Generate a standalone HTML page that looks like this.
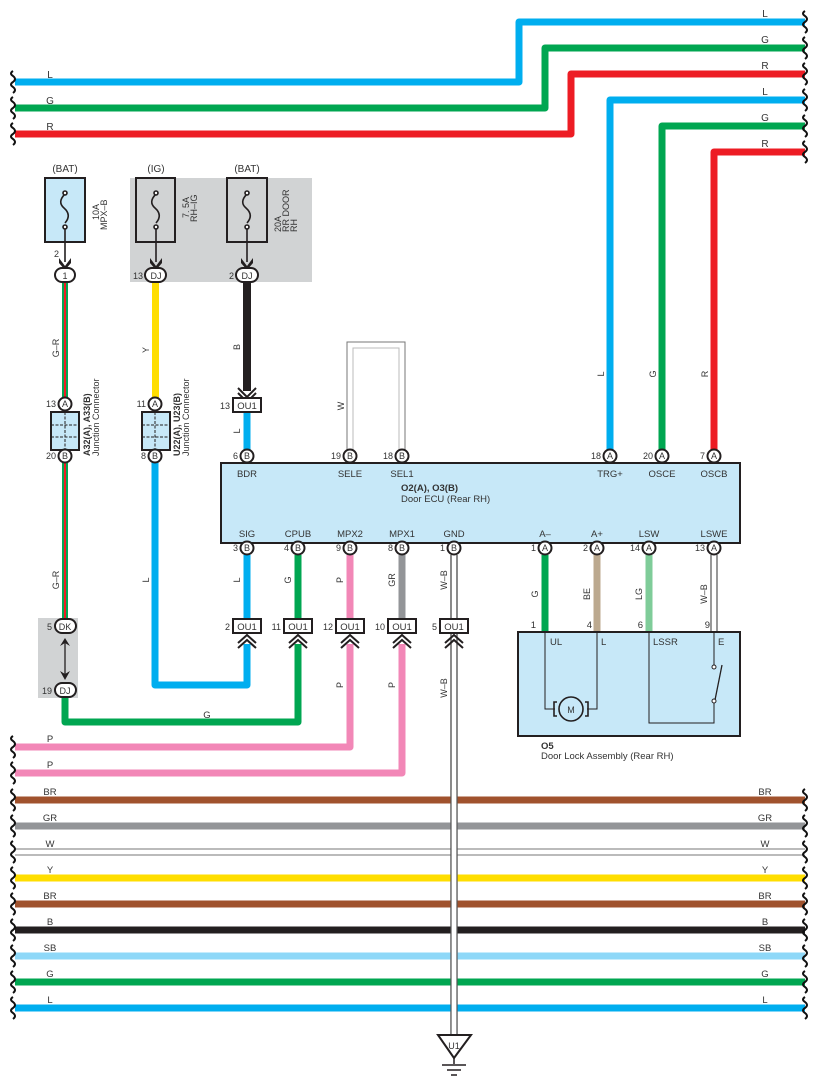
<!DOCTYPE html>
<html><head><meta charset="utf-8"><style>
html,body{margin:0;padding:0;background:#fff}
svg{display:block;font-family:"Liberation Sans",sans-serif}
text{fill:#333}
</style></head><body>
<svg width="817" height="1088" viewBox="0 0 817 1088" xmlns="http://www.w3.org/2000/svg">
<defs>
<g id="brace"><path d="M0,-11 q-4,2.5 0,5 q4,3 0,6 q-4,2.5 0,5 q4,3 0,6" fill="none" stroke="#111" stroke-width="2"/></g>
</defs>
<g fill="none" stroke-linejoin="round" stroke-width="7">
<path d="M15,82 H519 V22 H805" stroke="#00aeef"/>
<path d="M15,108 H545 V48 H805" stroke="#00a651"/>
<path d="M15,134 H571 V74 H805" stroke="#ed1c24"/>
<path d="M610,455 V100 H805" stroke="#00aeef"/>
<path d="M662,455 V126 H805" stroke="#00a651"/>
<path d="M714,455 V152 H805" stroke="#ed1c24"/>
</g>
<g font-size="10" text-anchor="middle">
<text x="50" y="78">L</text><text x="50" y="104">G</text><text x="50" y="130">R</text>
<text x="765" y="17">L</text><text x="765" y="43">G</text><text x="765" y="69">R</text>
<text x="765" y="95">L</text><text x="765" y="121">G</text><text x="765" y="147">R</text>
</g>
<use href="#brace" x="13" y="82"/><use href="#brace" x="13" y="108"/><use href="#brace" x="13" y="134"/>
<use href="#brace" x="805" y="22"/><use href="#brace" x="805" y="48"/><use href="#brace" x="805" y="74"/><use href="#brace" x="805" y="100"/><use href="#brace" x="805" y="126"/><use href="#brace" x="805" y="152"/>

<rect x="130" y="178" width="182" height="104" fill="#d1d3d4"/>
<rect x="38" y="618" width="40" height="80" fill="#d1d3d4"/>

<g font-size="10" text-anchor="middle">
<text x="65" y="172">(BAT)</text><text x="156" y="172">(IG)</text><text x="247" y="172">(BAT)</text>
</g>
<rect x="45" y="178" width="40" height="64" fill="#c7e8f8" stroke="#231f20" stroke-width="2"/>
<rect x="136" y="178" width="39" height="64" fill="#d1d3d4" stroke="#231f20" stroke-width="2"/>
<rect x="227" y="178" width="40" height="64" fill="#d1d3d4" stroke="#231f20" stroke-width="2"/>
<g fill="none" stroke="#231f20" stroke-width="1.6">
<path d="M65,194 q-8,8 -1,14 q8,7 1,15"/><circle cx="65" cy="193" r="2" fill="#fff"/><circle cx="65" cy="227" r="2" fill="#fff"/>
<path d="M156,194 q-8,8 -1,14 q8,7 1,15"/><circle cx="156" cy="193" r="2" fill="#fff"/><circle cx="156" cy="227" r="2" fill="#fff"/>
<path d="M247,194 q-8,8 -1,14 q8,7 1,15"/><circle cx="247" cy="193" r="2" fill="#fff"/><circle cx="247" cy="227" r="2" fill="#fff"/>
<path d="M65,229 V262 M156,229 V262 M247,229 V262"/>
</g>
<g fill="#231f20">
<path d="M59,258 L65,266 L71,258 L71,263 L65,270 L59,263Z"/>
<path d="M150,258 L156,266 L162,258 L162,263 L156,270 L150,263Z"/>
<path d="M241,258 L247,266 L253,258 L253,263 L247,270 L241,263Z"/>
</g>
<g font-size="9" transform="rotate(-90)">
<text x="-220" y="99">10A</text><text x="-230" y="107">MPX–B</text>
<text x="-218" y="189">7. 5A</text><text x="-222" y="197">RH–IG</text>
<text x="-232" y="281">20A</text><text x="-232" y="289">RR DOOR</text><text x="-232" y="297">RH</text>
</g>
<text x="54" y="257" font-size="9">2</text>

<rect x="62" y="283" width="6" height="120" fill="#00a651"/><rect x="64" y="283" width="2" height="120" fill="#ed1c24"/>
<rect x="62" y="462" width="6" height="157" fill="#00a651"/><rect x="64" y="462" width="2" height="157" fill="#ed1c24"/>
<rect x="152" y="283" width="7" height="115" fill="#ffde00"/>
<rect x="243" y="283" width="8" height="108" fill="#231f20"/>
<path d="M238,388 l9,9 l9,-9 M238,393 l9,9 l9,-9" stroke="#231f20" stroke-width="2" fill="none"/>
<g fill="none" stroke-linejoin="round" stroke-width="7">
<path d="M155,462 V685 H247 V644" stroke="#00aeef"/>
<path d="M247,412 V450" stroke="#00aeef"/>
<path d="M65,698 V722 H298 V644" stroke="#00a651"/>
<path d="M15,747 H350 V644" stroke="#f287b7"/>
<path d="M15,773 H402 V644" stroke="#f287b7"/>
<path d="M247,555 V618" stroke="#00aeef"/>
<path d="M298,555 V618" stroke="#00a651"/>
<path d="M350,555 V618" stroke="#f287b7"/>
<path d="M402,555 V618" stroke="#939598"/>
<path d="M545,555 V632" stroke="#00a651"/>
<path d="M597,555 V632" stroke="#bca98f"/>
<path d="M649,555 V632" stroke="#7fcc99"/>
</g>
<path d="M347,450 V342 H405 V450" fill="none" stroke="#777" stroke-width="1"/>
<path d="M353,450 V348 H399 V450" fill="none" stroke="#bbb" stroke-width="1"/>
<path d="M451,555 V1035 M457,555 V1035" stroke="#555" stroke-width="1.2"/>
<path d="M711,555 V632 M717,555 V632" stroke="#555" stroke-width="1.2"/>

<g stroke="#231f20" stroke-width="2" fill="#c7e8f8">
<rect x="51" y="412" width="28" height="38"/><rect x="142" y="412" width="28" height="38"/>
</g>
<g stroke="#231f20" stroke-width="1" fill="none">
<path d="M65,412 V450 M142,425 H170 M142,437 H170 M155,412 V450 M51,425 H79 M51,437 H79" stroke-dasharray="3,1.5"/>
</g>
<g font-size="9" transform="rotate(-90)">
<text x="-456" y="90" font-weight="bold">A32(A), A33(B)</text><text x="-456" y="99">Junction Connector</text>
<text x="-456" y="180" font-weight="bold">U22(A), U23(B)</text><text x="-456" y="189">Junction Connector</text>
</g>

<path d="M65,640 V676" stroke="#231f20" stroke-width="1.3"/>
<path d="M60,646 L65,638 L70,646 L65,643Z M60,671 L65,680 L70,671 L65,674Z" fill="#231f20"/>

<rect x="221" y="463" width="519" height="80" fill="#c7e8f8" stroke="#231f20" stroke-width="2"/>
<g font-size="9.5" text-anchor="middle">
<text x="247" y="477">BDR</text><text x="350" y="477">SELE</text><text x="402" y="477">SEL1</text>
<text x="610" y="477">TRG+</text><text x="662" y="477">OSCE</text><text x="714" y="477">OSCB</text>
<text x="247" y="537">SIG</text><text x="298" y="537">CPUB</text><text x="350" y="537">MPX2</text><text x="402" y="537">MPX1</text><text x="454" y="537">GND</text>
<text x="545" y="537">A–</text><text x="597" y="537">A+</text><text x="649" y="537">LSW</text><text x="714" y="537">LSWE</text>
</g>
<text x="401" y="491" font-size="9.5" font-weight="bold">O2(A), O3(B)</text>
<text x="401" y="502" font-size="9.5">Door ECU (Rear RH)</text>

<rect x="518" y="632" width="222" height="104" fill="#c7e8f8" stroke="#231f20" stroke-width="2"/>
<g fill="none" stroke="#231f20" stroke-width="1">
<path d="M545,632 V709 H555 M597,632 V709 H587 M649,632 V723 H714 V702 M714,632 V667"/>
<path d="M715,700 L722,665" stroke-width="1.3"/>
</g>
<circle cx="571" cy="709" r="12" fill="#c7e8f8" stroke="#231f20" stroke-width="1.6"/>
<path d="M557,702 h-3 v14 h3 M585,702 h3 v14 h-3" fill="none" stroke="#231f20" stroke-width="1.6"/>
<circle cx="714" cy="667" r="2" fill="#fff" stroke="#231f20"/><circle cx="714" cy="701" r="2" fill="#fff" stroke="#231f20"/>
<text x="571" y="713" font-size="9" text-anchor="middle">M</text>
<g font-size="9.5"><text x="550" y="645">UL</text><text x="601" y="645">L</text><text x="653" y="645">LSSR</text><text x="718" y="645">E</text>
<text x="536" y="628" text-anchor="end">1</text><text x="592" y="628" text-anchor="end">4</text><text x="643" y="628" text-anchor="end">6</text><text x="710" y="628" text-anchor="end">9</text>
<text x="541" y="749" font-weight="bold">O5</text><text x="541" y="759">Door Lock Assembly (Rear RH)</text></g>

<g stroke-width="7">
<path d="M15,800 H805" stroke="#a0522d"/>
<path d="M15,826 H805" stroke="#939598"/>
<path d="M15,878 H805" stroke="#ffde00"/>
<path d="M15,904 H805" stroke="#a0522d"/>
<path d="M15,930 H805" stroke="#231f20"/>
<path d="M15,956 H805" stroke="#8ed8f8"/>
<path d="M15,982 H805" stroke="#00a651"/>
<path d="M15,1008 H805" stroke="#00aeef"/>
</g>
<path d="M15,849 H805 M15,855 H805" stroke="#777" stroke-width="1"/>
<rect x="451" y="790" width="6" height="245" fill="#fff"/>
<path d="M451,555 V1035 M457,555 V1035" stroke="#555" stroke-width="1.2"/>
<g font-size="9.5" text-anchor="middle">
<text x="50" y="742">P</text><text x="50" y="768">P</text>
<text x="50" y="795">BR</text><text x="50" y="821">GR</text><text x="50" y="847">W</text><text x="50" y="873">Y</text><text x="50" y="899">BR</text><text x="50" y="925">B</text><text x="50" y="951">SB</text><text x="50" y="977">G</text><text x="50" y="1003">L</text>
<text x="765" y="795">BR</text><text x="765" y="821">GR</text><text x="765" y="847">W</text><text x="765" y="873">Y</text><text x="765" y="899">BR</text><text x="765" y="925">B</text><text x="765" y="951">SB</text><text x="765" y="977">G</text><text x="765" y="1003">L</text>
<text x="207" y="718">G</text>
</g>
<use href="#brace" x="13" y="747"/><use href="#brace" x="13" y="773"/>
<use href="#brace" x="13" y="800"/><use href="#brace" x="13" y="826"/><use href="#brace" x="13" y="852"/><use href="#brace" x="13" y="878"/><use href="#brace" x="13" y="904"/><use href="#brace" x="13" y="930"/><use href="#brace" x="13" y="956"/><use href="#brace" x="13" y="982"/><use href="#brace" x="13" y="1008"/>
<use href="#brace" x="805" y="800"/><use href="#brace" x="805" y="826"/><use href="#brace" x="805" y="852"/><use href="#brace" x="805" y="878"/><use href="#brace" x="805" y="904"/><use href="#brace" x="805" y="930"/><use href="#brace" x="805" y="956"/><use href="#brace" x="805" y="982"/><use href="#brace" x="805" y="1008"/>

<path d="M438,1035 H471 L454,1058 Z" fill="#fff" stroke="#231f20" stroke-width="2"/>
<text x="454" y="1049" font-size="9" text-anchor="middle">U1</text>
<path d="M454,1058 V1064 M442,1065 H466 M447,1070 H461 M451,1075 H457" stroke="#231f20" stroke-width="1.5"/>

<g fill="none" stroke="#231f20" stroke-width="2">
<path d="M238,643 l9,-8 l9,8 M238,648 l9,-8 l9,8"/>
<path d="M289,643 l9,-8 l9,8 M289,648 l9,-8 l9,8"/>
<path d="M341,643 l9,-8 l9,8 M341,648 l9,-8 l9,8"/>
<path d="M393,643 l9,-8 l9,8 M393,648 l9,-8 l9,8"/>
<path d="M445,643 l9,-8 l9,8 M445,648 l9,-8 l9,8"/>
</g>

<g fill="#fff" stroke="#231f20" stroke-width="2">
<rect x="233" y="398" width="28" height="14"/>
<rect x="233" y="619" width="28" height="14"/><rect x="284" y="619" width="28" height="14"/><rect x="336" y="619" width="28" height="14"/><rect x="388" y="619" width="28" height="14"/><rect x="440" y="619" width="28" height="14"/>
</g>
<g font-size="9.5" text-anchor="middle">
<text x="247" y="409">OU1</text><text x="247" y="630">OU1</text><text x="298" y="630">OU1</text><text x="350" y="630">OU1</text><text x="402" y="630">OU1</text><text x="454" y="630">OU1</text>
</g>

<g fill="#fff" stroke="#231f20" stroke-width="2">
<circle cx="65" cy="404" r="6.5"/><circle cx="65" cy="456" r="6.5"/><circle cx="155" cy="404" r="6.5"/><circle cx="155" cy="456" r="6.5"/>
<circle cx="247" cy="456" r="6.5"/><circle cx="350" cy="456" r="6.5"/><circle cx="402" cy="456" r="6.5"/>
<circle cx="610" cy="456" r="6.5"/><circle cx="662" cy="456" r="6.5"/><circle cx="714" cy="456" r="6.5"/>
<circle cx="247" cy="548" r="6.5"/><circle cx="298" cy="548" r="6.5"/><circle cx="350" cy="548" r="6.5"/><circle cx="402" cy="548" r="6.5"/><circle cx="454" cy="548" r="6.5"/>
<circle cx="545" cy="548" r="6.5"/><circle cx="597" cy="548" r="6.5"/><circle cx="649" cy="548" r="6.5"/><circle cx="714" cy="548" r="6.5"/>
<rect x="55" y="268" width="20" height="14" rx="7"/><rect x="145" y="268" width="21" height="14" rx="7"/><rect x="236" y="268" width="22" height="14" rx="7"/>
<rect x="55" y="619" width="21" height="14" rx="7"/><rect x="55" y="683" width="21" height="14" rx="7"/>
</g>
<g font-size="9" text-anchor="middle">
<text x="65" y="407">A</text><text x="65" y="459">B</text><text x="155" y="407">A</text><text x="155" y="459">B</text>
<text x="247" y="459">B</text><text x="350" y="459">B</text><text x="402" y="459">B</text><text x="610" y="459">A</text><text x="662" y="459">A</text><text x="714" y="459">A</text>
<text x="247" y="551">B</text><text x="298" y="551">B</text><text x="350" y="551">B</text><text x="402" y="551">B</text><text x="454" y="551">B</text>
<text x="545" y="551">A</text><text x="597" y="551">A</text><text x="649" y="551">A</text><text x="714" y="551">A</text>
<text x="65" y="279">1</text><text x="156" y="279">DJ</text><text x="247" y="279">DJ</text><text x="65" y="630">DK</text><text x="65" y="694">DJ</text>
</g>
<g font-size="9" text-anchor="end">
<text x="56" y="407">13</text><text x="56" y="459">20</text><text x="146" y="407">11</text><text x="146" y="459">8</text>
<text x="143" y="279">13</text><text x="234" y="279">2</text><text x="52" y="630">5</text><text x="52" y="694">19</text>
<text x="230" y="409">13</text>
<text x="238" y="459">6</text><text x="341" y="459">19</text><text x="393" y="459">18</text><text x="601" y="459">18</text><text x="653" y="459">20</text><text x="705" y="459">7</text>
<text x="238" y="551">3</text><text x="289" y="551">4</text><text x="341" y="551">9</text><text x="393" y="551">8</text><text x="445" y="551">1</text>
<text x="536" y="551">1</text><text x="588" y="551">2</text><text x="640" y="551">14</text><text x="705" y="551">13</text>
<text x="230" y="630">2</text><text x="281" y="630">11</text><text x="333" y="630">12</text><text x="385" y="630">10</text><text x="437" y="630">5</text>
</g>
<g font-size="9" text-anchor="middle">
<text transform="translate(59,348) rotate(-90)">G–R</text>
<text transform="translate(59,580) rotate(-90)">G–R</text>
<text transform="translate(149,350) rotate(-90)">Y</text>
<text transform="translate(240,347) rotate(-90)">B</text>
<text transform="translate(240,431) rotate(-90)">L</text>
<text transform="translate(344,406) rotate(-90)">W</text>
<text transform="translate(604,374) rotate(-90)">L</text>
<text transform="translate(656,374) rotate(-90)">G</text>
<text transform="translate(708,374) rotate(-90)">R</text>
<text transform="translate(149,580) rotate(-90)">L</text>
<text transform="translate(240,580) rotate(-90)">L</text>
<text transform="translate(291,580) rotate(-90)">G</text>
<text transform="translate(343,580) rotate(-90)">P</text>
<text transform="translate(395,580) rotate(-90)">GR</text>
<text transform="translate(447,580) rotate(-90)">W–B</text>
<text transform="translate(538,594) rotate(-90)">G</text>
<text transform="translate(590,594) rotate(-90)">BE</text>
<text transform="translate(642,594) rotate(-90)">LG</text>
<text transform="translate(707,594) rotate(-90)">W–B</text>
<text transform="translate(343,685) rotate(-90)">P</text>
<text transform="translate(395,685) rotate(-90)">P</text>
<text transform="translate(447,688) rotate(-90)">W–B</text>
</g>
</svg>
</body></html>
